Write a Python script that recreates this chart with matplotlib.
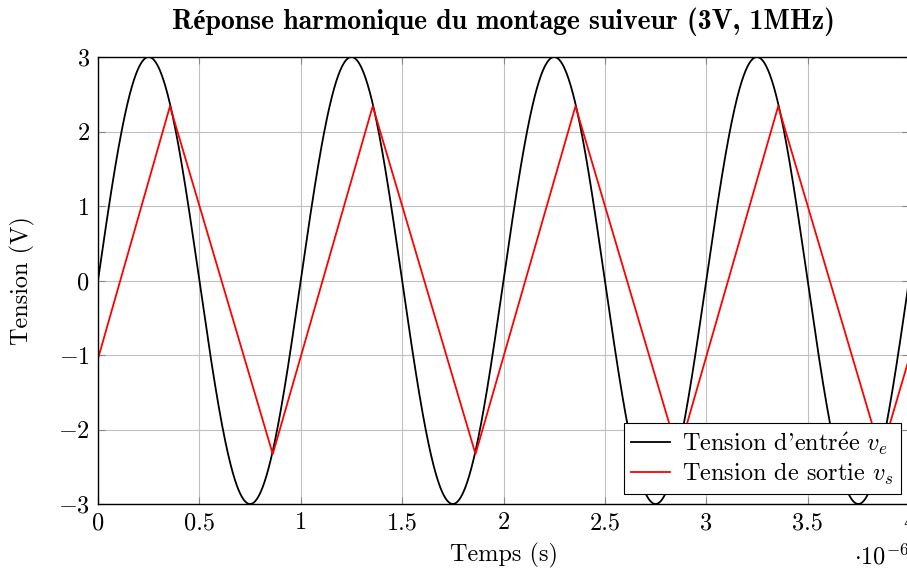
import numpy as np
import matplotlib.pyplot as plt
from matplotlib.ticker import FuncFormatter

plt.rcParams['font.family'] = ['cmr10', 'Liberation Serif']
plt.rcParams['mathtext.fontset'] = 'cm'
plt.rcParams['axes.formatter.use_mathtext'] = True
plt.rcParams['axes.unicode_minus'] = True

# input signal: 3V, 1MHz sine (time in microseconds)
amplitude = 3.0
freq_mhz = 1.0
t_in = np.linspace(0, 4, 2000)
v_in = amplitude * np.sin(2 * np.pi * freq_mhz * t_in)

# output of the follower (slew-rate limited), vertices
t_out = [0.0, 0.355, 0.862, 1.355, 1.862, 2.355, 2.862, 3.355, 3.862, 4.0]
v_out = [-1.05, 2.34, -2.33, 2.34, -2.33, 2.34, -2.33, 2.34, -2.33, -1.05]

xticks = [0, 0.5, 1, 1.5, 2, 2.5, 3, 3.5, 4]
yticks = [-3, -2, -1, 0, 1, 2, 3]

fig = plt.figure(figsize=(9.07, 5.68), dpi=100)
ax = fig.add_axes([98 / 907, 64 / 568, 811 / 907, 447 / 568])

ax.plot(t_in, v_in, color='black', lw=1.3,
        label=r"Tension d'entr$\mathrm{\acute{e}}$e $v_e$")
ax.plot(t_out, v_out, color='red', lw=1.3, solid_joinstyle='round',
        label=r'Tension de sortie $v_s$')

ax.set_xlim(0, 4)
ax.set_ylim(-3, 3)
ax.set_xticks(xticks)
ax.set_yticks(yticks)
ax.xaxis.set_major_formatter(FuncFormatter(lambda v, p: '%g' % v))
ax.yaxis.set_major_formatter(FuncFormatter(lambda v, p: r'$%g$' % v if v < 0 else '%g' % v))
ax.grid(True, color='#c0c0c0', lw=0.8)
ax.set_axisbelow(True)
ax.tick_params(direction='in', length=5, width=0.8, color='#888888',
               top=True, right=True, labelsize=17.5, pad=6)
for s in ax.spines.values():
    s.set_linewidth(1.0)

ax.set_xlabel('Temps (s)', fontsize=17.5, labelpad=6)
ax.set_ylabel('Tension (V)', fontsize=17.5, labelpad=16)
ax.set_title('Réponse harmonique du montage suiveur (3V, 1MHz)',
             fontsize=20, fontweight='bold', pad=20,
             family=['cmb10', 'Liberation Serif'])
ax.text(1.0, -0.09, r'$\cdot 10^{-6}$', transform=ax.transAxes,
        fontsize=17.5, ha='right', va='top')

leg = ax.legend(loc='lower right', bbox_to_anchor=(0.99, 0.022),
                fontsize=17.5, fancybox=False, framealpha=1,
                edgecolor='black', borderaxespad=0, handlelength=1.6,
                labelspacing=0.15, borderpad=0.3, handletextpad=0.5)
leg.get_frame().set_linewidth(0.8)

fig.savefig('out.png', dpi=100)
